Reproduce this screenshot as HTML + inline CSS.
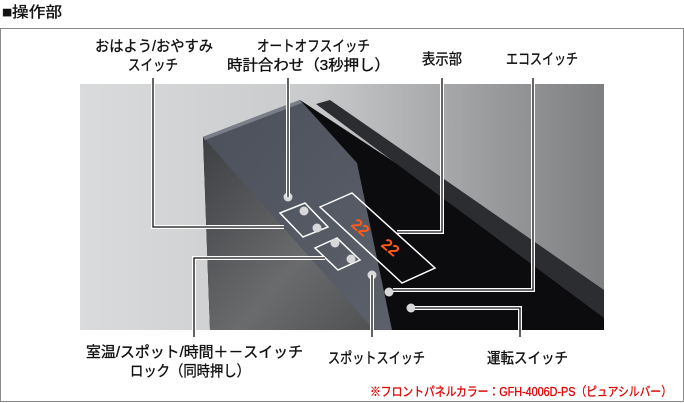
<!DOCTYPE html>
<html><head><meta charset="utf-8"><style>
html,body{margin:0;padding:0;background:#fff;width:684px;height:403px;overflow:hidden}
svg{display:block}
text{font-family:"Liberation Sans","Noto Sans CJK JP",sans-serif}
.lb text{fill:#111;stroke:#111;stroke-width:0.35}
</style></head><body>
<svg width="684" height="403" viewBox="0 0 684 403" xmlns="http://www.w3.org/2000/svg">
<defs>
<linearGradient id="bg" x1="0" y1="0" x2="1" y2="0">
<stop offset="0" stop-color="#d9dbdc"/><stop offset="0.45" stop-color="#c8cacb"/><stop offset="0.8" stop-color="#98999b"/><stop offset="1" stop-color="#7e7f81"/></linearGradient>
<linearGradient id="front" x1="0" y1="0" x2="1" y2="1">
<stop offset="0" stop-color="#3e3f42"/><stop offset="0.6" stop-color="#6a6b6d"/><stop offset="1" stop-color="#505153"/></linearGradient>
<linearGradient id="slate" x1="0" y1="0" x2="1" y2="1">
<stop offset="0" stop-color="#4c505a"/><stop offset="1" stop-color="#5c606a"/></linearGradient>
</defs>
<g class="lb"><text x="2" y="17" font-size="15" textLength="60" lengthAdjust="spacingAndGlyphs">■操作部</text></g>
<rect x="0.5" y="28.5" width="683" height="373" fill="none" stroke="#8a8a8a" stroke-width="1"/>
<rect x="80" y="84" width="524" height="246" fill="url(#bg)"/>
<polygon points="203,137 300,100 604,300 604,330 210,330" fill="#0c0c0e"/>
<polygon points="316,104 330,100 604,290 604,318" fill="#2c2d31"/>
<polygon points="203,137 373,322 373,330 210,330" fill="url(#front)"/>
<polygon points="203,137 300,100 357,163 392,330 374,330" fill="url(#slate)"/>
<polygon points="203,137 300,100 302,103 205,140" fill="#7a7e88"/>
<g fill="none" stroke="#fff" stroke-width="1.5">
<polygon points="280,213 305,203 328,227 303,237"/>
<polygon points="315,248 337,238 360,260 338,270"/>
<polygon points="320,207 352,193 435,268 402,283"/>
</g>
<g fill="#d8d8da">
<circle cx="288" cy="197" r="4.5"/><circle cx="304" cy="211" r="4.5"/><circle cx="317" cy="228" r="4.5"/>
<circle cx="335" cy="243" r="4.5"/><circle cx="351" cy="259" r="4.5"/>
<circle cx="372" cy="275" r="4.5"/><circle cx="389" cy="292" r="4.5"/><circle cx="411" cy="308" r="4.5"/>
</g>
<text x="353" y="232" font-size="16" font-weight="bold" style="fill:#ff5a1a" transform="rotate(40 360 225)">22</text>
<text x="383" y="252" font-size="16" font-weight="bold" style="fill:#ff5a1a" transform="rotate(40 390 245)">22</text>
<g fill="none">
<g stroke="#fff" stroke-width="4">
<polyline points="153,84 153,227 284,227"/>
<polyline points="288,84 288,197"/>
<polyline points="442,84 442,232 397,232"/>
<polyline points="533,84 533,290 393,290"/>
<polyline points="325,258 194,258 194,330"/>
<polyline points="372,275 372,330"/>
<polyline points="415,308 520,308 520,330"/>
</g>
<g stroke="#111" stroke-width="1.3">
<polyline points="153,78 153,227 284,227"/>
<polyline points="288,78 288,197"/>
<polyline points="442,78 442,232 397,232"/>
<polyline points="533,78 533,290 393,290"/>
<polyline points="325,258 194,258 194,337"/>
<polyline points="372,275 372,337"/>
<polyline points="415,308 520,308 520,337"/>
</g>
</g>
<g class="lb" font-size="15">
<text x="95" y="51" textLength="118" lengthAdjust="spacingAndGlyphs">おはよう/おやすみ</text>
<text x="128" y="70" textLength="50" lengthAdjust="spacingAndGlyphs">スイッチ</text>
<text x="257" y="51" textLength="113" lengthAdjust="spacingAndGlyphs">オートオフスイッチ</text>
<text x="227" y="70" textLength="163" lengthAdjust="spacingAndGlyphs">時計合わせ（3秒押し）</text>
<text x="422" y="64" textLength="40" lengthAdjust="spacingAndGlyphs">表示部</text>
<text x="506" y="64" textLength="72" lengthAdjust="spacingAndGlyphs">エコスイッチ</text>
<text x="86" y="357" textLength="217" lengthAdjust="spacingAndGlyphs">室温/スポット/時間＋－スイッチ</text>
<text x="130" y="376" textLength="120" lengthAdjust="spacingAndGlyphs">ロック（同時押し）</text>
<text x="328" y="363" textLength="97" lengthAdjust="spacingAndGlyphs">スポットスイッチ</text>
<text x="487" y="363" textLength="81" lengthAdjust="spacingAndGlyphs">運転スイッチ</text>
</g>
<text x="370" y="396" font-size="12.5" style="fill:#e00000;stroke:#e00000;stroke-width:0.3" textLength="302" lengthAdjust="spacingAndGlyphs">※フロントパネルカラー：GFH-4006D-PS（ピュアシルバー）</text>
</svg>
</body></html>
